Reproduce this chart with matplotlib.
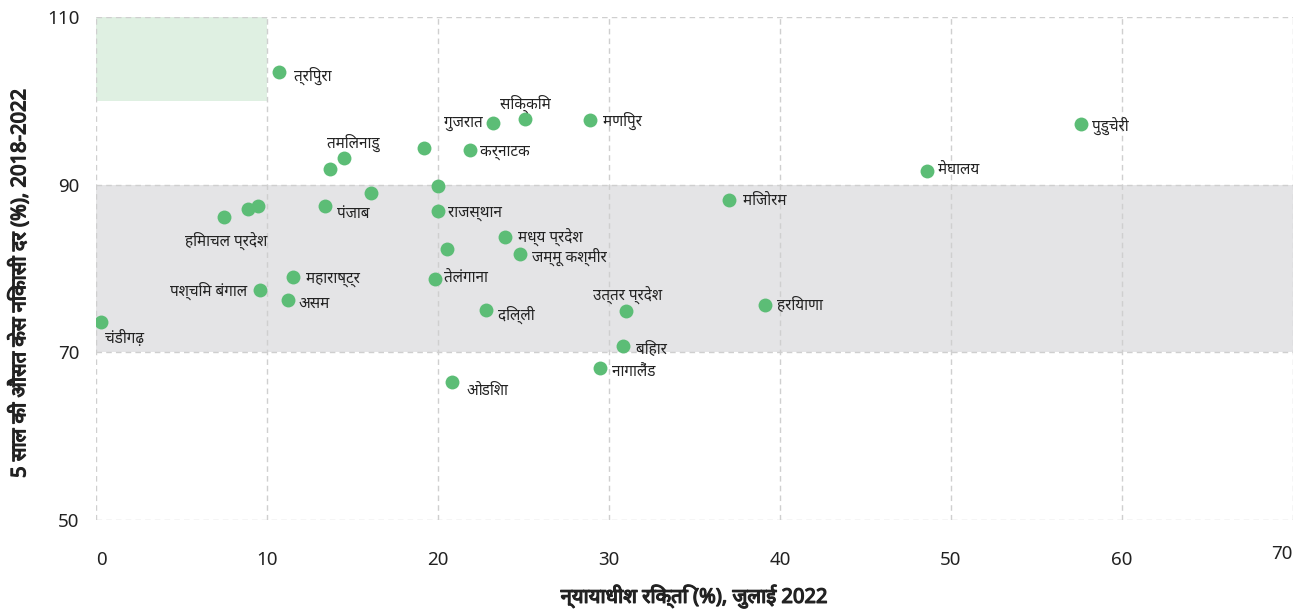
import matplotlib
matplotlib.use("Agg")
import matplotlib.pyplot as plt
import matplotlib.patheffects as pe
from matplotlib import font_manager as fm
from matplotlib.ft2font import FT2Font
from matplotlib.transforms import ScaledTranslation

# ---- data ----
states = ["त्रिपुरा", "तमिलनाडु", "", "", "", "", "गुजरात", "सिक्किम", "मणिपुर", "कर्नाटक",
          "राजस्थान", "पुडुचेरी", "मेघालय", "मिजोरम", "", "", "हिमाचल प्रदेश", "पंजाब",
          "महाराष्ट्र", "पश्चिम बंगाल", "असम", "चंडीगढ़", "तेलंगाना", "", "मध्य प्रदेश",
          "जम्मू कश्मीर", "दिल्ली", "उत्तर प्रदेश", "बिहार", "नागालैंड", "ओडिशा", "हरियाणा"]
vacancy = [10.7, 14.5, 13.7, 19.2, 20.0, 16.1, 23.2, 25.1, 28.9, 21.9,
           20.0, 57.6, 48.6, 37.0, 7.5, 8.9, 9.5, 13.4,
           11.5, 9.6, 11.2, 0.3, 19.8, 20.5, 23.9,
           24.8, 22.8, 31.0, 30.8, 29.5, 20.8, 39.1]
disposal = [103.4, 93.2, 91.9, 94.4, 89.8, 89.0, 97.4, 97.8, 97.7, 94.1,
            86.9, 97.2, 91.6, 88.2, 86.1, 87.1, 87.5, 87.5,
            79.0, 77.4, 76.2, 73.6, 78.8, 82.3, 83.8,
            81.7, 75.1, 74.9, 70.7, 68.1, 66.5, 75.7]
x_ticks = [0, 10, 20, 30, 40, 50, 60, 70]
y_ticks = [50, 70, 90, 110]
x_label = "न्यायाधीश रिक्ति (%), जुलाई 2022"
y_label = "5 साल की औसत केस निकासी दर (%), 2018-2022"

# label placement (pixel offsets, ha)
label_pos = {
    "त्रिपुरा": (15, -3, "left"),
    "तमिलनाडु": (9, 15, "center"),
    "गुजरात": (-10, -1, "right"),
    "सिक्किम": (0, 15, "center"),
    "मणिपुर": (13, -1, "left"),
    "कर्नाटक": (10, -2, "left"),
    "राजस्थान": (10, -3, "left"),
    "पुडुचेरी": (11, -2, "left"),
    "मेघालय": (11, 0, "left"),
    "मिजोरम": (14, -2, "left"),
    "हिमाचल प्रदेश": (9, -35, "right"),
    "पंजाब": (12, -9, "left"),
    "महाराष्ट्र": (13, -3, "left"),
    "पश्चिम बंगाल": (-13, -1, "right"),
    "असम": (11, -4, "left"),
    "चंडीगढ़": (4, -16, "left"),
    "तेलंगाना": (9, -1, "left"),
    "मध्य प्रदेश": (13, -1, "left"),
    "जम्मू कश्मीर": (12, -3, "left"),
    "दिल्ली": (12, -5, "left"),
    "उत्तर प्रदेश": (1, 15, "center"),
    "बिहार": (13, -4, "left"),
    "नागालैंड": (12, -5, "left"),
    "ओडिशा": (15, -10, "left"),
    "हरियाणा": (12, -1, "left"),
}

# ---- fonts: find a (preferably sans, non-mono) font with Devanagari glyphs ----
cands = []
for f in fm.fontManager.ttflist:
    try:
        if 0x0915 in FT2Font(f.fname).get_charmap():
            n = f.name
            score = 0
            if "Devanagari" in n or "Lohit" in n or "Mukta" in n:
                score += 10
            if "Sans" in n:
                score += 5
            if "Mono" in n or "Mono" in f.fname:
                score -= 20
            if "Serif" in n:
                score -= 3
            cands.append((score, n))
    except Exception:
        pass
cands.sort(key=lambda t: -t[0])
deva = cands[0][1] if cands else None
fams = ["Noto Sans"] + ([deva] if deva else []) + ["DejaVu Sans"]
plt.rcParams["font.family"] = fams

fig = plt.figure(figsize=(13.01, 6.10), dpi=100)
ax = fig.add_axes([96 / 1301, 1 - 520 / 610, (1293 - 96) / 1301, (520 - 17) / 610])
ax.set_xlim(0, 70)
ax.set_ylim(50, 110)

ax.axhspan(70, 90, color="#e4e4e6", zorder=0, lw=0)
ax.fill_between([0, 10], 100, 110, color="#dff0e2", zorder=0, lw=0)

for xv in x_ticks:
    ax.axvline(xv, color="#cfcfcf", lw=1, ls=(0, (4, 3)), zorder=1)
for yv in y_ticks:
    ax.axhline(yv, color="#cfcfcf", lw=1, ls=(0, (4, 3)), zorder=1)
for s in ax.spines.values():
    s.set_visible(False)

ax.scatter(vacancy, disposal, s=100, color="#5cbd76", zorder=3, lw=0)

for name, xv, yv in zip(states, vacancy, disposal):
    if not name:
        continue
    dx, dy, ha = label_pos[name]
    ax.annotate(name, (xv, yv), xytext=(dx, dy), textcoords="offset pixels",
                ha=ha, va="center", fontsize=11, color="#222222", zorder=4)

ax.set_xticks(x_ticks)
ax.set_yticks(y_ticks)
ax.tick_params(length=0, labelsize=13.5, colors="#222222")
ax.tick_params(axis="x", pad=22)
ax.tick_params(axis="y", pad=12)
xt = ax.get_xticklabels()
xt[0].set_ha("left")
xt[-1].set_ha("right")
xt[-1].set_transform(xt[-1].get_transform() + ScaledTranslation(0, 6 / 100, fig.dpi_scale_trans))

bold = [pe.withStroke(linewidth=0.9, foreground="#222222")]
xl = ax.set_xlabel(x_label, fontsize=14.5, fontweight="bold", color="#222222", va="center")
yl = ax.set_ylabel(y_label, fontsize=14.5, fontweight="bold", color="#222222", va="center")
xl.set_path_effects(bold)
yl.set_path_effects(bold)
ax.xaxis.set_label_coords(0.5, (520 - 596) / 503)
ax.yaxis.set_label_coords((19 - 96) / 1197, (520 - 283) / 503)

fig.savefig("out.png", dpi=100)
